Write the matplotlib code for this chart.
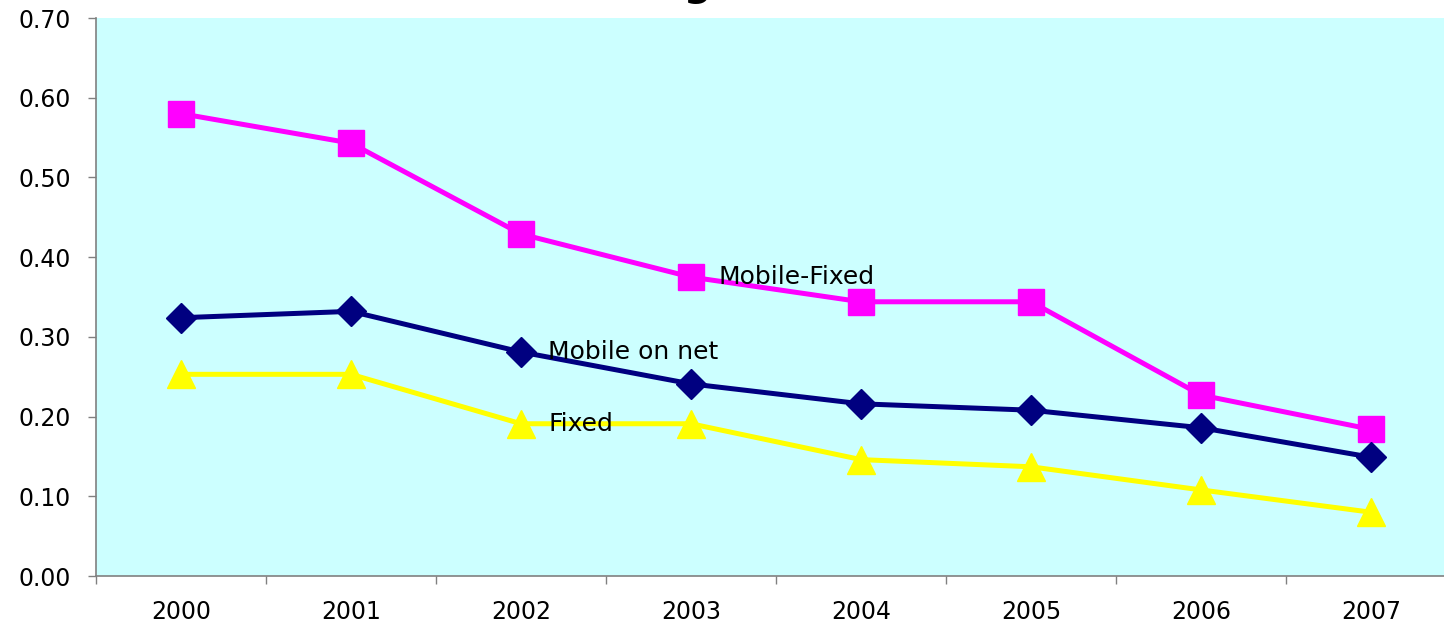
import numpy as np
import matplotlib.pyplot as plt
from matplotlib.ticker import FixedLocator

plt.rcParams['font.family'] = ['DejaVu Sans']

# price per minute by year
years = ['2000', '2001', '2002', '2003', '2004', '2005', '2006', '2007']
mobile_fixed = [0.580, 0.543, 0.429, 0.375, 0.344, 0.344, 0.227, 0.184]
mobile_on_net = [0.324, 0.332, 0.281, 0.241, 0.216, 0.208, 0.186, 0.149]
fixed = [0.253, 0.253, 0.191, 0.191, 0.146, 0.137, 0.108, 0.080]

W, H = 1444, 629
fig = plt.figure(figsize=(W / 100, H / 100), dpi=100)
# plot area runs a little past the right edge of the figure
ax = fig.add_axes([96 / W, (H - 576) / H, (1456 - 96) / W, (576 - 18) / H])
ax.set_facecolor('#CCFFFF')

x = np.arange(len(years))
ax.plot(x, mobile_fixed, color='#FF00FF', lw=3.6, marker='s', ms=19, zorder=3)
ax.plot(x, mobile_on_net, color='#000080', lw=3.6, marker='D', ms=15, zorder=3)
ax.plot(x, fixed, color='#FFFF00', lw=3.6, marker='^', ms=20, zorder=3)

ax.set_xlim(-0.5, len(years) - 0.5)
ax.set_ylim(0, 0.70)
ax.set_yticks(np.arange(0, 0.71, 0.1))
ax.set_yticklabels(['%.2f' % v for v in np.arange(0, 0.71, 0.1)])
ax.set_xticks(x)
ax.set_xticklabels(years)
ax.xaxis.set_minor_locator(FixedLocator(np.arange(-0.5, len(years), 1.0)))

ax.tick_params(axis='x', which='major', length=0, pad=17, labelsize=17)
ax.tick_params(axis='x', which='minor', length=6, width=1, color='#808080')
ax.tick_params(axis='y', length=6, width=1, color='#808080', labelsize=17, pad=12)

for s in ['top', 'right']:
    ax.spines[s].set_visible(False)
for s in ['left', 'bottom']:
    ax.spines[s].set_color('#808080')
    ax.spines[s].set_linewidth(1.2)

# series labels placed next to the lines
ax.text(3.16, mobile_fixed[3], 'Mobile-Fixed', fontsize=18, va='center', zorder=4)
ax.text(2.16, mobile_on_net[2], 'Mobile on net', fontsize=18, va='center', zorder=4)
ax.text(2.16, fixed[2], 'Fixed', fontsize=18, va='center', zorder=4)

# title sits above the top edge, only its descenders reach into the figure
fig.text(0.5, 1.0 + 4 / H, 'Average tariffs', fontsize=28, fontweight='bold',
         ha='center', va='baseline')

fig.savefig('out.png', dpi=100)
